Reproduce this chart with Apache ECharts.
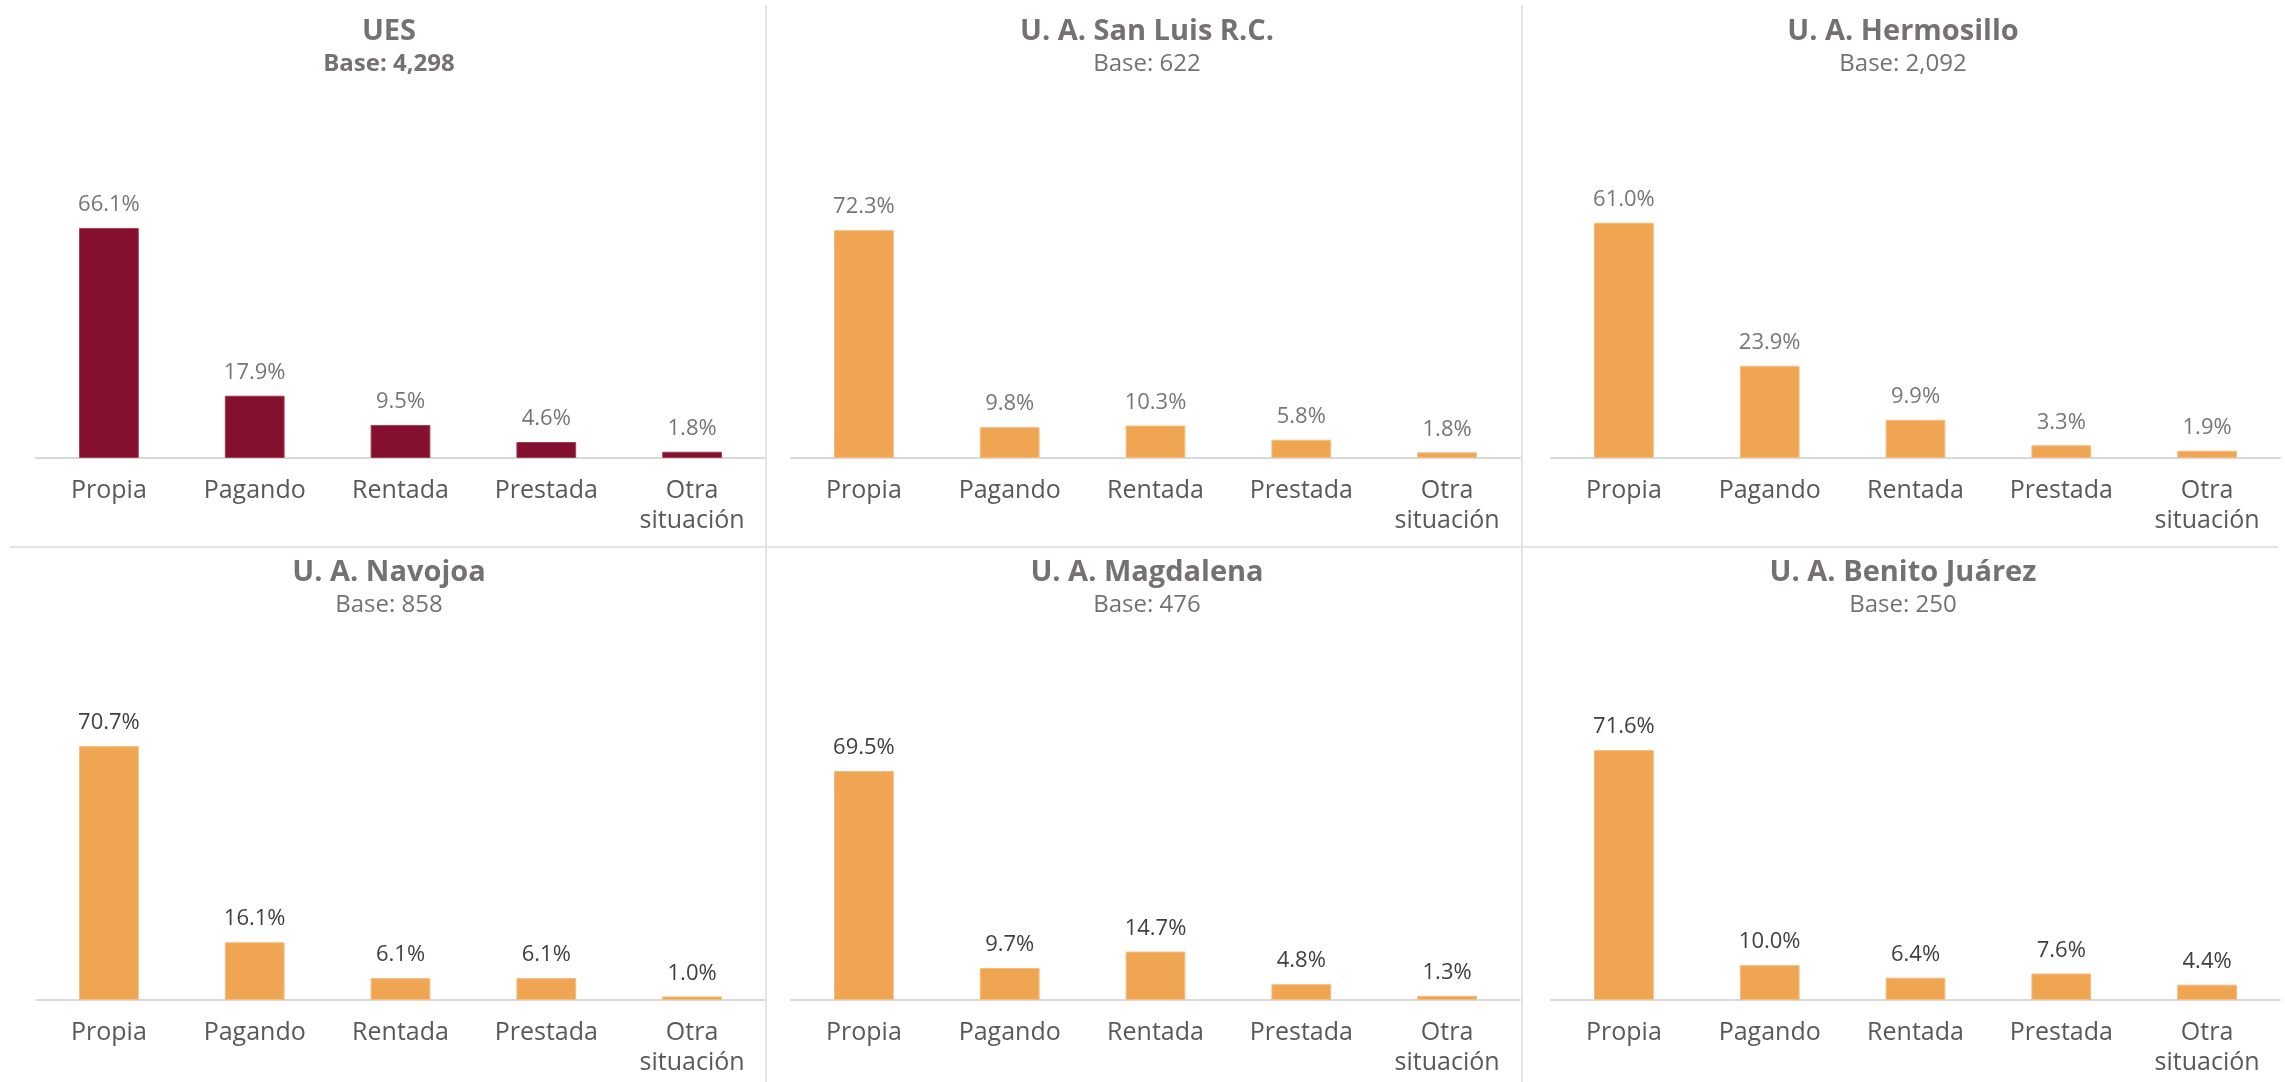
<!DOCTYPE html>
<html>
<head>
<meta charset="utf-8">
<title>Situación de vivienda</title>
<script src="https://cdn.jsdelivr.net/npm/echarts@6/dist/echarts.min.js"></script>
<style>
  html, body { margin: 0; padding: 0; background: #fff; }
  #chart { width: 2285px; height: 1082px; }
</style>
</head>
<body>
<div id="chart"></div>
<script type="text/javascript">
  // categorias y valores (%) por unidad
  var categories = ['Propia', 'Pagando', 'Rentada', 'Prestada', 'Otra\nsituación'];
  var panelNames = ['UES', 'U. A. San Luis R.C.', 'U. A. Hermosillo', 'U. A. Navojoa', 'U. A. Magdalena', 'U. A. Benito Juárez'];
  var panelBases = ['Base: 4,298', 'Base: 622', 'Base: 2,092', 'Base: 858', 'Base: 476', 'Base: 250'];
  var uesValues = [66.1, 17.9, 9.5, 4.6, 1.8];
  var sanLuisValues = [72.3, 9.8, 10.3, 5.8, 1.8];
  var hermosilloValues = [61.0, 23.9, 9.9, 3.3, 1.9];
  var navojoaValues = [70.7, 16.1, 6.1, 6.1, 1.0];
  var magdalenaValues = [69.5, 9.7, 14.7, 4.8, 1.3];
  var benitoValues = [71.6, 10.0, 6.4, 7.6, 4.4];
  var allValues = [uesValues, sanLuisValues, hermosilloValues, navojoaValues, magdalenaValues, benitoValues];
  // maximo del eje y de cada grafica
  var yMax = [74.7, 82.5, 67.4, 72.4, 78.9, 74.5];

  var font = '"Open Sans", sans-serif';
  var gridLeft = [36, 791, 1551];
  var titleX = [389, 1147, 1903];
  var rowTop = [198, 740];
  var titleTop = [17, 558];

  var myChart = echarts.init(document.getElementById('chart'));

  var titles = [], grids = [], xAxes = [], yAxes = [], series = [];
  for (var i = 0; i < 6; i++) {
    var col = i % 3, row = Math.floor(i / 3);
    var isUes = i === 0;
    titles.push({
      text: panelNames[i],
      subtext: panelBases[i],
      left: titleX[col],
      top: titleTop[row],
      textAlign: 'center',
      padding: 0,
      itemGap: 3,
      textStyle: { fontFamily: font, fontSize: 29, fontWeight: 'bold', color: '#767171', lineHeight: 30 },
      subtextStyle: { fontFamily: font, fontSize: 24, fontWeight: isUes ? 'bold' : 'normal', color: '#767171', lineHeight: 28 }
    });
    grids.push({ left: gridLeft[col], width: 729, top: rowTop[row], height: 260 });
    xAxes.push({
      type: 'category',
      gridIndex: i,
      data: categories,
      axisLine: { lineStyle: { color: '#d9d9d9', width: 2 } },
      axisTick: { length: 7, lineStyle: { color: '#d9d9d9', width: 2 } },
      axisLabel: { color: '#595959', fontFamily: font, fontSize: 25, lineHeight: 30, margin: 18, interval: 0 }
    });
    yAxes.push({ type: 'value', gridIndex: i, min: 0, max: yMax[i], show: false, splitLine: { show: false } });
    series.push({
      type: 'bar',
      xAxisIndex: i,
      yAxisIndex: i,
      data: allValues[i],
      barWidth: '41%',
      itemStyle: {
        color: isUes ? '#850f2e' : '#f0a553',
        borderColor: isUes ? '#a0404f' : '#f5bd82',
        borderWidth: 1
      },
      label: {
        show: true,
        position: 'top',
        distance: 12,
        fontFamily: font,
        fontSize: 22,
        color: row === 0 ? '#7a7575' : '#404040',
        formatter: function (p) { return p.value.toFixed(1) + '%'; }
      }
    });
  }

  // lineas divisorias entre graficas
  var divider = { stroke: '#e4e4e4', lineWidth: 2 };
  var option = {
    backgroundColor: '#fff',
    animation: false,
    title: titles,
    grid: grids,
    xAxis: xAxes,
    yAxis: yAxes,
    series: series,
    graphic: [
      { type: 'line', shape: { x1: 766, y1: 5, x2: 766, y2: 1082 }, style: divider },
      { type: 'line', shape: { x1: 1522, y1: 5, x2: 1522, y2: 1082 }, style: divider },
      { type: 'line', shape: { x1: 10, y1: 547, x2: 2278, y2: 547 }, style: divider }
    ]
  };
  myChart.setOption(option);
</script>
</body>
</html>
